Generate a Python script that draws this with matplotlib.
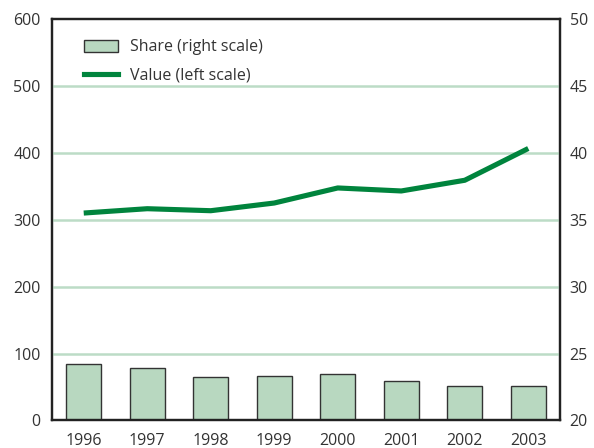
import matplotlib
matplotlib.use("Agg")
import matplotlib.pyplot as plt
from matplotlib.patches import Patch
from matplotlib.lines import Line2D

years = ["1996", "1997", "1998", "1999", "2000", "2001", "2002", "2003"]
value_left = [310, 316.5, 313.5, 325, 347.5, 343, 359, 406.5]
share_right = [24.24, 23.89, 23.26, 23.31, 23.46, 22.98, 22.6, 22.58]
left_ticks = [0, 100, 200, 300, 400, 500, 600]
right_ticks = [20, 25, 30, 35, 40, 45, 50]

plt.rcParams["font.family"] = ["Open Sans", "DejaVu Sans"]
fs = 11.5

LINE = "#00843d"
BAR = "#b8d8c0"
GRID = "#bcdcc6"
TXT = "#333333"

fig = plt.figure(figsize=(5.94, 4.48), dpi=100)
ax = fig.add_axes([0.0875, 0.0614, 0.8553, 0.8962])
ax2 = ax.twinx()
ax.set_zorder(ax2.get_zorder() + 1)
ax.patch.set_visible(False)

x = list(range(len(years)))
ax2.bar(x, share_right, width=0.55, color=BAR, edgecolor="#333333", linewidth=1.0)
ax2.set_ylim(20, 50)
ax2.set_yticks(right_ticks)

ax.plot(x, value_left, color=LINE, linewidth=3.7, solid_capstyle="butt", zorder=3)
ax.set_ylim(0, 600)
ax.set_yticks(left_ticks)
ax.set_xlim(-0.5, 7.5)
ax.set_xticks(x)
ax.set_xticklabels(years)
for t in left_ticks[1:-1]:
    ax.axhline(t, color=GRID, linewidth=1.8, zorder=1)

for a in (ax, ax2):
    a.tick_params(axis="both", length=0, labelsize=fs, labelcolor=TXT)
    for s in a.spines.values():
        s.set_color("#222222")
        s.set_linewidth(1.6)
ax.tick_params(axis="y", pad=8)
ax.tick_params(axis="x", pad=9)
ax2.tick_params(axis="y", pad=7)

handles = [Patch(facecolor=BAR, edgecolor="#333333", linewidth=1.0),
           Line2D([0], [0], color=LINE, linewidth=3.7)]
leg = ax.legend(handles, ["Share (right scale)", "Value (left scale)"],
                loc="upper left", bbox_to_anchor=(0.035, 0.985), frameon=False,
                fontsize=fs, handlelength=2.1, handleheight=0.8,
                handletextpad=0.75, labelspacing=0.75, labelcolor=TXT)

fig.savefig("out.png", dpi=100)
